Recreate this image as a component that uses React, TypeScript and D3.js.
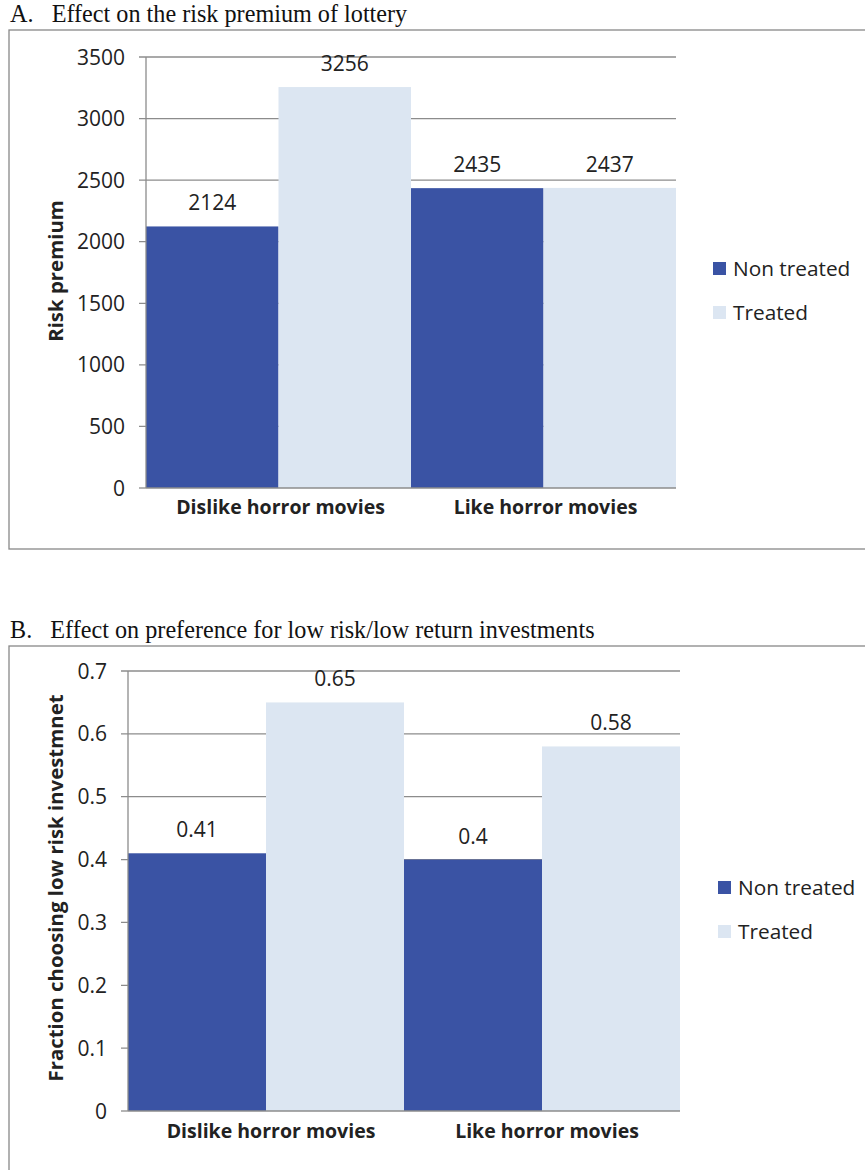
import React from "react";
import * as d3 from "d3";

const categories = ["Dislike horror movies", "Like horror movies"];
const seriesNames = ["Non treated", "Treated"];

const premiumNonTreated = [2124, 2435];
const premiumTreated = [3256, 2437];
const premiumTicks = [0, 500, 1000, 1500, 2000, 2500, 3000, 3500];

const fractionNonTreated = [0.41, 0.4];
const fractionTreated = [0.65, 0.58];
const fractionTicks = [0, 0.1, 0.2, 0.3, 0.4, 0.5, 0.6, 0.7];

const COLORS = ["#3A53A4", "#DCE6F2"];
const SANS = "'Open Sans', 'Noto Sans', sans-serif";
const SERIF = "'Liberation Serif', 'Times New Roman', serif";
const TEXT = "#222";
const GRID = "#8c8c8c";

type PanelProps = {
  title: string;
  boxTop: number;
  boxBottom: number;
  titleY: number;
  x0: number;
  x1: number;
  yTop: number;
  yBottom: number;
  yMax: number;
  ticks: number[];
  tickFormat: (v: number) => string;
  yTitle: string;
  yTitleCenter: number;
  nonTreated: number[];
  treated: number[];
  legendX: number;
  legendY: number;
  xLabelY: number;
  xLabelShift: number;
};

function Panel(p: PanelProps) {
  const y = d3.scaleLinear().domain([0, p.yMax]).range([p.yBottom, p.yTop]);
  const x = d3.scaleBand<string>().domain(categories).range([p.x0, p.x1]).padding(0);
  const xs = d3.scaleBand<string>().domain(seriesNames).range([0, x.bandwidth()]).padding(0);
  const rows = categories.map((c, i) => ({ c, vals: [p.nonTreated[i], p.treated[i]] }));

  return (
    <g>
      <text x={10} y={p.titleY} fontFamily={SERIF} fontSize={24.2} fill="#111" style={{ whiteSpace: "pre" }}>
        {p.title}
      </text>
      <rect x={9} y={p.boxTop} width={900} height={p.boxBottom - p.boxTop} fill="none" stroke="#888" strokeWidth={1.3} />
      {/* gridlines and tick labels */}
      {p.ticks.map((t) => (
        <g key={t}>
          <line x1={p.x0 - 7} x2={t === 0 ? p.x0 : p.x1} y1={y(t)} y2={y(t)} stroke={GRID} strokeWidth={1.3} />
          <text x={p.x0 - 21} y={y(t) + 7.5} textAnchor="end" fontFamily={SANS} fontSize={21} fill={TEXT}>
            {p.tickFormat(t)}
          </text>
        </g>
      ))}
      {/* bars */}
      {rows.map((r) =>
        r.vals.map((v, j) => (
          <rect
            key={r.c + j}
            x={(x(r.c) as number) + (xs(seriesNames[j]) as number)}
            y={y(v)}
            width={xs.bandwidth()}
            height={y(0) - y(v)}
            fill={COLORS[j]}
          />
        ))
      )}
      <line x1={p.x0} x2={p.x0} y1={p.yTop} y2={p.yBottom} stroke={GRID} strokeWidth={1.3} />
      <line x1={p.x0} x2={p.x1} y1={p.yBottom} y2={p.yBottom} stroke={GRID} strokeWidth={1.3} />
      {/* value labels */}
      {rows.map((r) =>
        r.vals.map((v, j) => (
          <text
            key={"l" + r.c + j}
            x={(x(r.c) as number) + (xs(seriesNames[j]) as number) + xs.bandwidth() / 2}
            y={y(v) - 16}
            textAnchor="middle"
            fontFamily={SANS}
            fontSize={21}
            fill={TEXT}
          >
            {String(v)}
          </text>
        ))
      )}
      {/* category labels */}
      {categories.map((c) => (
        <text
          key={c}
          x={(x(c) as number) + x.bandwidth() / 2 + p.xLabelShift}
          y={p.xLabelY}
          textAnchor="middle"
          fontFamily={SANS}
          fontWeight="bold"
          fontSize={19.5}
          fill={TEXT}
        >
          {c}
        </text>
      ))}
      <text
        transform={`translate(63,${p.yTitleCenter}) rotate(-90)`}
        textAnchor="middle"
        fontFamily={SANS}
        fontWeight="bold"
        fontSize={20.4}
        fill={TEXT}
      >
        {p.yTitle}
      </text>
      {/* legend */}
      {seriesNames.map((s, j) => (
        <g key={s} transform={`translate(${p.legendX},${p.legendY + j * 44})`}>
          <rect x={0} y={0} width={13} height={13} fill={COLORS[j]} />
          <text x={20} y={14} fontFamily={SANS} fontSize={20.8} fill={TEXT}>
            {s}
          </text>
        </g>
      ))}
    </g>
  );
}

export default function App() {
  return (
    <svg width={865} height={1170} style={{ position: "absolute", left: 0, top: 0, background: "#fff" }}>
      <Panel
        title={"A.   Effect on the risk premium of lottery"}
        titleY={22}
        boxTop={30}
        boxBottom={549}
        x0={146}
        x1={676}
        yTop={57}
        yBottom={488}
        yMax={3500}
        ticks={premiumTicks}
        tickFormat={(v) => String(v)}
        yTitle="Risk premium"
        yTitleCenter={271}
        nonTreated={premiumNonTreated}
        treated={premiumTreated}
        legendX={713}
        legendY={262}
        xLabelY={514}
        xLabelShift={2}
      />
      <Panel
        title={"B.   Effect on preference for low risk/low return investments"}
        titleY={638}
        boxTop={646}
        boxBottom={1200}
        x0={128}
        x1={680}
        yTop={671}
        yBottom={1111}
        yMax={0.7}
        ticks={fractionTicks}
        tickFormat={(v) => (v === 0 ? "0" : d3.format(".1f")(v))}
        yTitle="Fraction choosing low risk investmnet"
        yTitleCenter={888}
        nonTreated={fractionNonTreated}
        treated={fractionTreated}
        legendX={718}
        legendY={881}
        xLabelY={1138}
        xLabelShift={5}
      />
    </svg>
  );
}
